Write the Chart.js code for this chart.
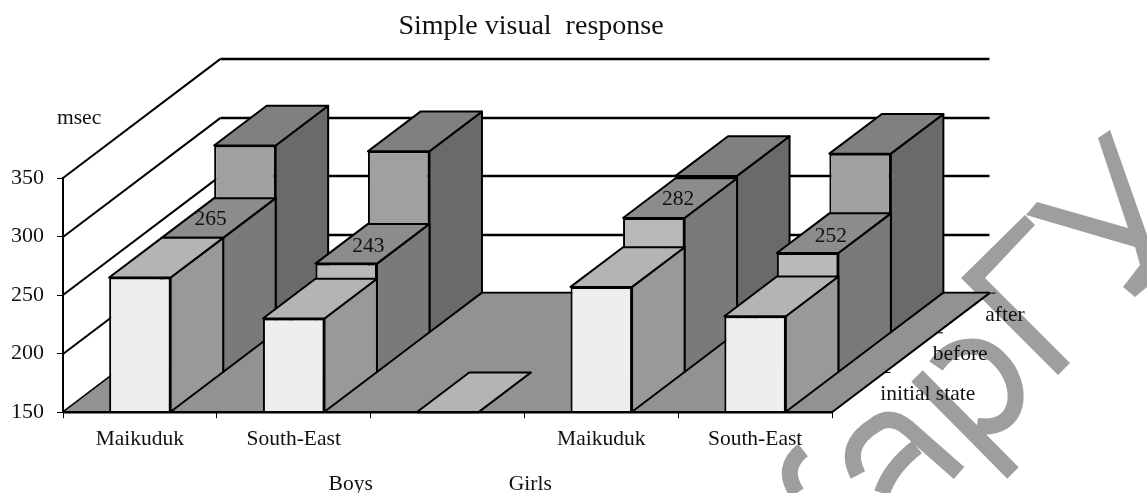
<!DOCTYPE html>
<html>
<head>
<meta charset="utf-8">
<title>Simple visual response</title>
<script src="https://cdn.jsdelivr.net/npm/chart.js@4"></script>
<style>
  html, body { margin: 0; padding: 0; background: #fff; }
  #wrap { width: 1147px; height: 493px; position: relative; }
</style>
</head>
<body>
<div id="wrap"><canvas id="reactionChart"></canvas></div>
<script>
// values
const categories = ["Maikuduk", "South-East", "", "Maikuduk", "South-East"];
const groupLabels = ["Boys", "Girls"];
const rowLabels = ["initial state", "before", "after"];
const initialState = [265, 230, 150, 257, 232];
const before = [265, 243, null, 282, 252];
const after = [310, 305, null, 284, 303];
const yTicks = [150, 200, 250, 300, 350];
const rowValues = [initialState, before, after];

// depth of one row in the oblique projection
const DX = 52.5, DY = 39.7, ROWS = 3;
const INK = "#000";
const SERIF = "'Liberation Serif', 'Times New Roman', serif";
const faceColors = ["#eeeeee", "#b9b9b9", "#a0a0a0"];
const topColors = ["#b4b4b4", "#8c8c8c", "#808080"];
const sideColors = ["#999999", "#7a7a7a", "#6a6a6a"];
// small per-category nudges for the value labels
const labelShiftX = [-8, -4, 0, -2, -3];
const labelShiftY = [1, 3, 0, 1, 3];

function poly(ctx, pts, fill, noStroke) {
  ctx.beginPath();
  pts.forEach(function (p, i) { i ? ctx.lineTo(p[0], p[1]) : ctx.moveTo(p[0], p[1]); });
  ctx.closePath();
  if (fill) { ctx.fillStyle = fill; ctx.fill(); }
  if (!noStroke) ctx.stroke();
}

// grey watermark behind everything
const watermark = {
  id: "watermark",
  beforeDraw: function (chart) {
    const ctx = chart.ctx;
    ctx.save();
    ctx.fillStyle = "#fff";
    ctx.fillRect(0, 0, chart.width, chart.height);
    const grey = "#9e9e9e";
    poly(ctx, [[1025, 215], [1035, 225], [985, 278], [1070, 363], [1058, 375], [961, 278]], grey, true);
    poly(ctx, [[1037, 202], [1128, 228], [1098, 138], [1110, 130], [1147, 235], [1147, 287], [1135, 297], [1123, 287], [1140, 265], [1135, 247], [1026, 215]], grey, true);
    ctx.strokeStyle = grey;
    ctx.lineWidth = 16;
    ctx.lineCap = "butt";
    // p
    ctx.beginPath();
    ctx.moveTo(936, 366);
    ctx.bezierCurveTo(950, 345, 980, 338, 1000, 360);
    ctx.bezierCurveTo(1025, 385, 1022, 432, 977, 426);
    ctx.stroke();
    ctx.beginPath(); ctx.moveTo(917, 376); ctx.lineTo(1013, 473); ctx.stroke();
    // a
    ctx.beginPath();
    ctx.moveTo(858, 475);
    ctx.quadraticCurveTo(842, 445, 875, 425);
    ctx.quadraticCurveTo(890, 413, 908, 428);
    ctx.lineTo(959, 473);
    ctx.stroke();
    ctx.beginPath();
    ctx.moveTo(917, 447);
    ctx.quadraticCurveTo(890, 468, 882, 493);
    ctx.stroke();
    // c
    ctx.beginPath();
    ctx.moveTo(803, 450);
    ctx.quadraticCurveTo(780, 468, 797, 493);
    ctx.stroke();
    ctx.restore();
  }
};

// floor and back walls, laid out from the library's own scales
const walls = {
  id: "walls",
  beforeDatasetsDraw: function (chart) {
    const ctx = chart.ctx, xs = chart.scales.x, ys = chart.scales.y;
    const left = xs.left, right = xs.right, base = ys.bottom;
    const bx = DX * ROWS, by = DY * ROWS;
    ctx.save();
    ctx.strokeStyle = INK;
    yTicks.forEach(function (v) {
      const y = Math.round(ys.getPixelForValue(v));
      ctx.lineWidth = 2;
      ctx.beginPath();
      ctx.moveTo(left, y);
      ctx.lineTo(left + bx, y - by);
      ctx.stroke();
      ctx.lineWidth = 2.5;
      ctx.beginPath();
      ctx.moveTo(left + bx, y - by);
      ctx.lineTo(right + bx, y - by);
      ctx.stroke();
    });
    ctx.lineWidth = 1;
    poly(ctx, [[left, base], [right, base], [right + bx, base - by], [left + bx, base - by]], "#929292");
    ctx.lineWidth = 2;
    ctx.beginPath();
    ctx.moveTo(right, base);
    ctx.lineTo(right + bx, base - by);
    ctx.stroke();
    // depth ticks on the right edge
    ctx.lineWidth = 1;
    for (let i = 1; i <= ROWS; i++) {
      ctx.beginPath();
      ctx.moveTo(right + DX * i, base - DY * i);
      ctx.lineTo(right + DX * i + 6, base - DY * i);
      ctx.stroke();
    }
    ctx.restore();
  }
};

// native bars are the front faces; side and top are added per row and the whole row shifted back
const boxes = {
  id: "boxes",
  beforeDatasetDraw: function (chart, args) {
    const ctx = chart.ctx, r = args.index;
    ctx.save();
    ctx.translate(DX * r, -DY * r);
    ctx.strokeStyle = INK;
    ctx.lineWidth = 2;
    ctx.lineJoin = "round";
    args.meta.data.forEach(function (bar, i) {
      if (rowValues[r][i] === null) return;
      const p = bar.getProps(["x", "y", "base", "width"], true);
      const l = p.x - p.width / 2, rt = p.x + p.width / 2;
      poly(ctx, [[rt, p.base], [rt + DX, p.base - DY], [rt + DX, p.y - DY], [rt, p.y]], sideColors[r]);
      poly(ctx, [[l, p.y], [rt, p.y], [rt + DX, p.y - DY], [l + DX, p.y - DY]], topColors[r]);
    });
  },
  afterDatasetDraw: function (chart) {
    chart.ctx.restore();
  }
};

const annotations = {
  id: "annotations",
  afterDraw: function (chart) {
    const ctx = chart.ctx, xs = chart.scales.x, ys = chart.scales.y;
    ctx.save();
    // the base line sits on top of the bars
    ctx.strokeStyle = INK;
    ctx.lineWidth = 2.5;
    ctx.beginPath();
    ctx.moveTo(xs.left, ys.bottom);
    ctx.lineTo(xs.right, ys.bottom);
    ctx.stroke();
    ctx.textAlign = "center";
    ctx.textBaseline = "middle";
    ctx.fillStyle = "#111";
    ctx.font = "28px " + SERIF;
    ctx.fillText("Simple visual  response", 531, 27);
    ctx.font = "21.5px " + SERIF;
    // labels over the "before" row
    const meta = chart.getDatasetMeta(1);
    before.forEach(function (v, i) {
      if (v === null) return;
      const b = meta.data[i];
      ctx.fillText(String(v), b.x + DX * 1.5 + labelShiftX[i], b.y - DY * 1.5 + labelShiftY[i]);
    });
    // row names next to the floor edge
    ctx.textAlign = "left";
    rowLabels.forEach(function (t, i) {
      ctx.fillText(t, xs.right + DX * (i + 0.5) + 22, ys.bottom - DY * (i + 0.5) + 2);
    });
    ctx.fillText("msec", 57, 118);
    // group names under the categories
    ctx.textAlign = "center";
    ctx.fillText(groupLabels[0], xs.getPixelForValue(1) + 57, 484);
    ctx.fillText(groupLabels[1], xs.getPixelForValue(3) - 71, 484);
    ctx.restore();
  }
};

new Chart(document.getElementById("reactionChart"), {
  type: "bar",
  data: {
    labels: categories,
    datasets: rowValues.map(function (vals, r) {
      return {
        label: rowLabels[r],
        data: vals,
        base: 150,
        backgroundColor: faceColors[r],
        borderColor: INK,
        borderWidth: 2,
        clip: false,
        categoryPercentage: 0.4,
        barPercentage: 1,
        grouped: false
      };
    })
  },
  plugins: [watermark, walls, boxes, annotations],
  options: {
    responsive: true,
    maintainAspectRatio: false,
    animation: false,
    layout: { padding: { top: 178, right: 315, bottom: 33, left: 1 } },
    plugins: {
      legend: { display: false },
      tooltip: { enabled: false }
    },
    scales: {
      x: {
        grid: { display: true, offset: true, drawOnChartArea: false, color: INK, tickLength: 6 },
        border: { color: INK, width: 2 },
        ticks: { color: "#111", font: { family: SERIF, size: 21.5 }, padding: 8, maxRotation: 0, autoSkip: false }
      },
      y: {
        min: 150,
        max: 350,
        afterBuildTicks: function (axis) { axis.ticks = yTicks.map(function (v) { return { value: v }; }); },
        afterFit: function (axis) { axis.width = 62; },
        grid: { drawOnChartArea: false, color: INK, tickLength: 6 },
        border: { color: INK, width: 2 },
        ticks: { color: "#111", font: { family: SERIF, size: 22 }, padding: 13 }
      }
    }
  }
});
</script>
</body>
</html>
